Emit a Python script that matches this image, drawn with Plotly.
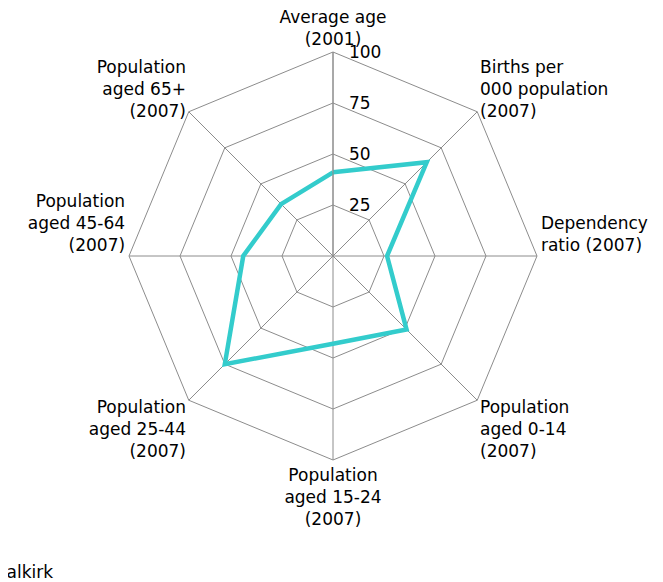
import plotly.graph_objects as go

B = "<br>\u00a0"  # blank line used to nudge a label block upward

categories = [
    "Average age<br>(2001)",
    "Births per<br>000 population<br>(2007)",
    "Dependency<br>ratio (2007)" + B + B,
    "Population<br>aged 0-14<br>(2007)",
    "Population<br>aged 15-24<br>(2007)",
    "Population<br>aged 25-44<br>(2007)",
    "Population<br>aged 45-64<br>(2007)" + B + B + B,
    "Population<br>aged 65+<br>(2007)",
]
falkirk = [41, 65, 26.5, 51, 43, 75, 44, 36]
radial_ticks = [25, 50, 75, 100]

fig = go.Figure()
fig.add_trace(go.Scatterpolar(
    r=falkirk + falkirk[:1],
    theta=categories + categories[:1],
    mode="lines",
    name="Falkirk",
    line=dict(color="#33CCCC", width=4.5),
))

W, H = 663, 582
cx, cy, R = 325, 248, 204
fig.update_layout(
    width=W, height=H,
    margin=dict(l=0, r=0, t=0, b=0, autoexpand=False),
    paper_bgcolor="white",
    plot_bgcolor="white",
    font=dict(family="DejaVu Sans", size=17, color="black"),
    showlegend=True,
    legend=dict(x=-0.075, y=0.0, xanchor="left", yanchor="bottom",
                font=dict(size=17), bgcolor="rgba(0,0,0,0)"),
    polar=dict(
        domain=dict(x=[(cx - R) / W, (cx + R) / W],
                    y=[1 - (cy + R) / H, 1 - (cy - R) / H]),
        bgcolor="white",
        gridshape="linear",
        angularaxis=dict(
            rotation=90, direction="clockwise",
            gridcolor="#8c8c8c", linecolor="#8c8c8c", linewidth=1,
            showline=True, ticks="",
            tickfont=dict(size=17),
        ),
        radialaxis=dict(
            range=[0, 100], angle=90, tickangle=90,
            tickvals=radial_ticks, ticktext=[str(t) for t in radial_ticks],
            gridcolor="#8c8c8c", linecolor="#8c8c8c", showline=True,
            ticks="outside", ticklen=12, tickcolor="rgba(0,0,0,0)",
            tickfont=dict(size=17), side="clockwise",
        ),
    ),
)
fig.write_html("out.html")
